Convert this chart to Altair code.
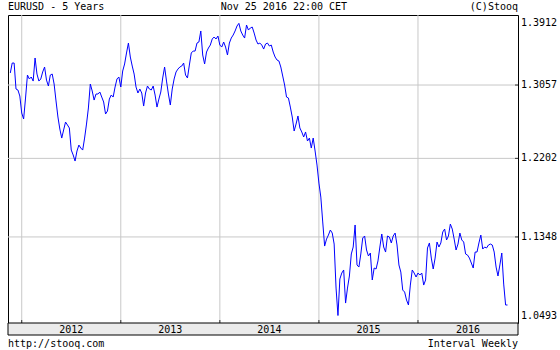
import altair as alt
import pandas as pd

# Weekly EURUSD closes (first week: 2011-11-25)
prices_2011_12 = [1.3203, 1.3325, 1.3325, 1.3009, 1.2997, 1.2925, 1.2724, 1.2654, 1.2901, 1.3178,
                  1.3130, 1.3154, 1.3105, 1.3387, 1.3190, 1.3105, 1.3130, 1.3215, 1.3276, 1.3117,
                  1.3045, 1.3178, 1.3190, 1.3069, 1.2866, 1.2677, 1.2537, 1.2433, 1.2526, 1.2618,
                  1.2584, 1.2549, 1.2296, 1.2240, 1.2172, 1.2285, 1.2353, 1.2319, 1.2296, 1.2433,
                  1.2595, 1.2783, 1.3069, 1.2985, 1.2877, 1.2949, 1.2949, 1.2973, 1.2913, 1.2854,
                  1.2712, 1.2747, 1.2889, 1.2937, 1.2913, 1.3033, 1.3130, 1.3154]
prices_2013 = [1.3033, 1.3227, 1.3313, 1.3449, 1.3573, 1.3399, 1.3288, 1.3190, 1.3033, 1.2961,
               1.3009, 1.2961, 1.2806, 1.2961, 1.3045, 1.3009, 1.2997, 1.3045, 1.2937, 1.2794,
               1.2889, 1.2973, 1.3142, 1.3276, 1.3105, 1.2949, 1.2818, 1.3009, 1.3130, 1.3215,
               1.3251, 1.3276, 1.3288, 1.3325, 1.3178, 1.3142, 1.3300, 1.3449, 1.3473, 1.3473,
               1.3573, 1.3586, 1.3725, 1.3424, 1.3313, 1.3461, 1.3511, 1.3548, 1.3624, 1.3649,
               1.3624, 1.3661]
prices_2014 = [1.3548, 1.3523, 1.3586, 1.3523, 1.3424, 1.3573, 1.3636, 1.3674, 1.3725, 1.3788,
               1.3822, 1.3725, 1.3674, 1.3636, 1.3801, 1.3737, 1.3763, 1.3775, 1.3699, 1.3611,
               1.3561, 1.3573, 1.3548, 1.3498, 1.3561, 1.3573, 1.3536, 1.3548, 1.3461, 1.3399,
               1.3362, 1.3350, 1.3276, 1.3166, 1.3057, 1.2913, 1.2901, 1.2794, 1.2677, 1.2514,
               1.2595, 1.2689, 1.2549, 1.2503, 1.2445, 1.2503, 1.2399, 1.2433, 1.2319, 1.2433,
               1.2285, 1.2127]
prices_2015 = [1.1927, 1.1774, 1.1506, 1.1253, 1.1326, 1.1368, 1.1421, 1.1389, 1.1274, 1.0825,
               1.0554, 1.0916, 1.0976, 1.1007, 1.0676, 1.0825, 1.0946, 1.1171, 1.1243, 1.1474,
               1.1058, 1.1037, 1.1171, 1.1337, 1.1358, 1.1212, 1.1150, 1.1181, 1.0906, 1.1027,
               1.1017, 1.1099, 1.1243, 1.1379, 1.1243, 1.1191, 1.1358, 1.1347, 1.1285, 1.1358,
               1.1389, 1.1264, 1.1058, 1.0986, 1.0805, 1.0785, 1.0706, 1.0657, 1.0855, 1.1007,
               1.0976, 1.0936]
prices_2016 = [1.0976, 1.0956, 1.0976, 1.0855, 1.0906, 1.1233, 1.1285, 1.1129, 1.1017, 1.1129,
               1.1295, 1.1243, 1.1285, 1.1400, 1.1431, 1.1316, 1.1358, 1.1484, 1.1431, 1.1326,
               1.1212, 1.1274, 1.1389, 1.1316, 1.1295, 1.1171, 1.1160, 1.1129, 1.1078, 1.1027,
               1.1191, 1.1191, 1.1285, 1.1368, 1.1222, 1.1243, 1.1233, 1.1264, 1.1274, 1.1264,
               1.1191, 1.1037, 1.0946, 1.1058, 1.1181, 1.0865, 1.0657, 1.0657]

first_week = "2011-11-25"
year_starts = ["2012-01-06", "2013-01-04", "2014-01-03", "2015-01-02", "2016-01-01"]
year_labels = ["2012", "2013", "2014", "2015", "2016"]
y_top_label = [1.3912]
y_mid_labels = [1.3057, 1.2202, 1.1348]
y_bottom_label = [1.0493]

title_left = "EURUSD - 5 Years"
title_mid = "Nov 25 2016 22:00 CET"
title_right = "(C)Stooq"
foot_left = "http://stooq.com"
foot_right = "Interval Weekly"

FONT = "DejaVu Sans Mono"
W, H = 510, 308

prices = prices_2011_12 + prices_2013 + prices_2014 + prices_2015 + prices_2016
dates = pd.date_range(first_week, periods=len(prices), freq="7D")
df = pd.DataFrame({"date": dates, "price": prices})

x_end = pd.Timestamp("2017-01-02 13:12")
starts = pd.to_datetime(year_starts)
ends = list(starts[1:]) + [x_end]
mids = [s + (e - s) / 2 for s, e in zip(starts, ends)]
df_years = pd.DataFrame({"start": starts, "mid": mids, "label": year_labels})
df_ygrid = pd.DataFrame({"v": y_mid_labels})

xscale = alt.Scale(domain=[alt.DateTime(year=2011, month=11, date=16, hours=13, minutes=12),
                           alt.DateTime(year=2017, month=1, date=2, hours=13, minutes=12)])
yscale = alt.Scale(type="log", domain=[1.04812, 1.39291], nice=False, zero=False)

vgrid = alt.Chart(df_years).mark_rule(color="#c8c8c8", strokeWidth=1).encode(
    x=alt.X("start:T", scale=xscale, axis=None))
hgrid = alt.Chart(df_ygrid).mark_rule(color="#c8c8c8", strokeWidth=1).encode(
    y=alt.Y("v:Q", scale=yscale, axis=None))
line = alt.Chart(df).mark_line(color="#0000ff", strokeWidth=1).encode(
    x=alt.X("date:T", scale=xscale, axis=None),
    y=alt.Y("price:Q", scale=yscale, axis=None))
yticks = alt.Chart(df_ygrid).mark_rule(color="#333333", strokeWidth=1).encode(
    y=alt.Y("v:Q", scale=yscale, axis=None), x=alt.value(W - 3), x2=alt.value(W))
xticks = alt.Chart(df_years).mark_rule(color="#333333", strokeWidth=1).encode(
    x=alt.X("start:T", scale=xscale, axis=None), y=alt.value(H - 3), y2=alt.value(H))
band = alt.Chart(pd.DataFrame({"k": [0]})).mark_rect(
    fill="#ebebeb", stroke="black", strokeWidth=1).encode(
    x=alt.value(0), x2=alt.value(W), y=alt.value(H), y2=alt.value(H + 12))
year_text = alt.Chart(df_years).mark_text(font=FONT, fontSize=10, color="black",
                                          baseline="alphabetic", align="center").encode(
    x=alt.X("mid:T", scale=xscale, axis=None), y=alt.value(H + 10), text="label:N")


def ylab(values, dy):
    d = pd.DataFrame({"v": values})
    return alt.Chart(d).mark_text(font=FONT, fontSize=10, color="black", align="left",
                                  baseline="middle", dy=dy).encode(
        y=alt.Y("v:Q", scale=yscale, axis=None), x=alt.value(W + 3),
        text=alt.Text("v:Q", format=".4f"))


def txt(s, x, y, align):
    return alt.Chart(pd.DataFrame({"t": [s]})).mark_text(
        font=FONT, fontSize=10, color="black", baseline="alphabetic", align=align
    ).encode(text="t:N", x=alt.value(x), y=alt.value(y))


chart = alt.layer(
    vgrid, hgrid, line, yticks, xticks, band, year_text,
    ylab(y_top_label, 7), ylab(y_mid_labels, 0), ylab(y_bottom_label, -6),
    txt(title_left, 0, -5, "left"),
    txt(title_mid, 212.7, -5, "left"),
    txt(title_right, W, -5, "right"),
    txt(foot_left, 0, 332, "left"),
    txt(foot_right, W, 332, "right"),
).properties(
    width=W, height=H, background="white",
    padding={"left": 8, "top": 15, "right": 42, "bottom": 27},
    autosize=alt.AutoSizeParams(type="none"),
).configure_view(stroke="black", strokeWidth=1)

chart.save("out.html", embed_options={"renderer": "svg", "actions": False})
